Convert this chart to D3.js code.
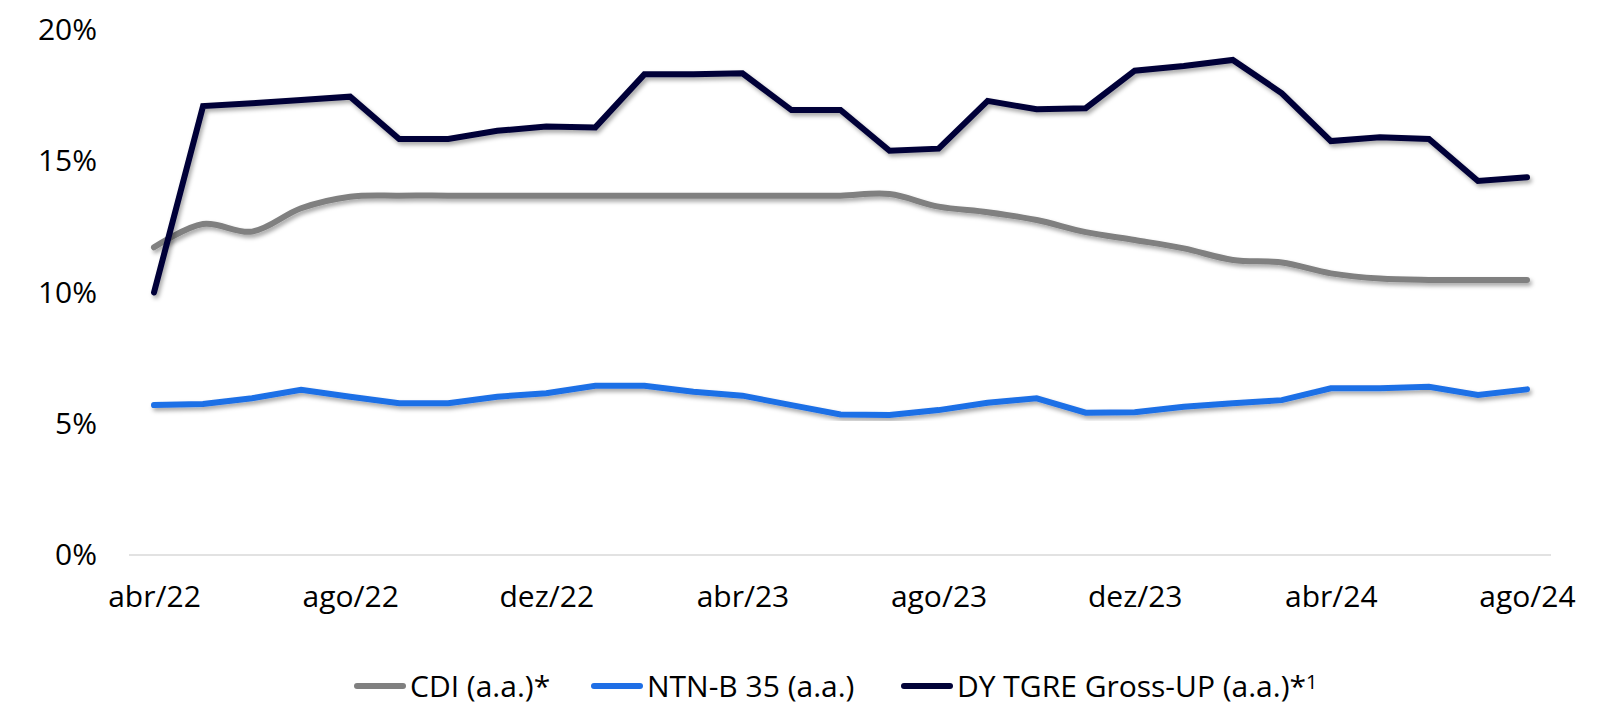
<!DOCTYPE html>
<html>
<head>
<meta charset="utf-8">
<script src="https://cdn.jsdelivr.net/npm/d3@7"></script>
<style>
  html, body { margin: 0; padding: 0; background: #fff; }
  svg { display: block; }
  text { font-family: "Open Sans", "Noto Sans", sans-serif; fill: #000; }
</style>
</head>
<body>
<svg id="chart" width="1611" height="707"></svg>
<script>
const months = ["abr/22","mai/22","jun/22","jul/22","ago/22","set/22","out/22","nov/22","dez/22",
  "jan/23","fev/23","mar/23","abr/23","mai/23","jun/23","jul/23","ago/23","set/23","out/23","nov/23","dez/23",
  "jan/24","fev/24","mar/24","abr/24","mai/24","jun/24","jul/24","ago/24"];
const xTickLabels = ["abr/22","ago/22","dez/22","abr/23","ago/23","dez/23","abr/24","ago/24"];
const yTicks = [0, 5, 10, 15, 20];

const cdi = [11.72,12.61,12.32,13.21,13.65,13.69,13.69,13.69,13.69,13.69,13.69,13.69,13.69,13.69,13.69,
  13.75,13.27,13.06,12.76,12.30,12.00,11.68,11.24,11.14,10.73,10.53,10.48,10.48,10.48];
const ntnb = [5.71,5.75,5.97,6.29,6.03,5.78,5.78,6.03,6.16,6.45,6.45,6.22,6.07,5.71,5.35,
  5.33,5.52,5.80,5.97,5.42,5.44,5.65,5.78,5.90,6.35,6.35,6.41,6.10,6.31];
const dy = [10.0,17.10,17.21,17.33,17.46,15.85,15.85,16.16,16.32,16.29,18.31,18.31,18.35,16.95,16.95,
  15.40,15.48,17.30,16.98,17.02,18.45,18.63,18.86,17.59,15.77,15.91,15.85,14.25,14.39];

const seriesNames = ["CDI (a.a.)*", "NTN-B 35 (a.a.)", "DY TGRE Gross-UP (a.a.)*"];
const seriesColors = ["#808080", "#1f6fe6", "#020338"];

const svg = d3.select("#chart");
const defs = svg.append("defs");
const f = defs.append("filter").attr("id","shadow").attr("x","-5%").attr("y","-20%").attr("width","110%").attr("height","140%");
f.append("feDropShadow").attr("dx",2).attr("dy",3).attr("stdDeviation",2)
  .attr("flood-color","#000").attr("flood-opacity",0.35);

const x = d3.scalePoint().domain(months).range([154, 1527]);
const y = d3.scaleLinear().domain([0, 20]).range([555, 30]);

// baseline gridline at 0%
svg.append("line")
  .attr("x1", 129).attr("x2", 1551)
  .attr("y1", y(0)).attr("y2", y(0))
  .attr("stroke", "#d9d9d9").attr("stroke-width", 1.5);

// y axis
const yAxis = svg.append("g").attr("transform", "translate(97,0)")
  .call(d3.axisLeft(y).tickValues(yTicks).tickSize(0).tickPadding(0).tickFormat(d => d + "%"));
yAxis.select(".domain").remove();
yAxis.selectAll("text").style("font-size", "30px").attr("fill", "#000");

// x axis
const xAxis = svg.append("g").attr("transform", `translate(0,${y(0)})`)
  .call(d3.axisBottom(x).tickValues(xTickLabels).tickSize(0).tickPadding(31));
xAxis.select(".domain").remove();
xAxis.selectAll("text").style("font-size", "30px").attr("fill", "#000");

const allSeries = [
  {name: seriesNames[0], color: seriesColors[0], values: cdi, curve: d3.curveCatmullRom.alpha(0.5)},
  {name: seriesNames[1], color: seriesColors[1], values: ntnb, curve: d3.curveLinear},
  {name: seriesNames[2], color: seriesColors[2], values: dy, curve: d3.curveLinear}
];

allSeries.forEach(s => {
  const line = d3.line().x((d, i) => x(months[i])).y(d => y(d)).curve(s.curve);
  svg.append("path")
    .datum(s.values)
    .attr("d", line)
    .attr("fill", "none")
    .attr("stroke", s.color)
    .attr("stroke-width", 6)
    .attr("stroke-linejoin", "miter")
    .attr("stroke-linecap", "round")
    .attr("filter", "url(#shadow)");
});

// legend
const legendPos = [354, 591, 901];
const legend = svg.append("g");
allSeries.forEach((s, i) => {
  const g = legend.append("g").attr("transform", `translate(${legendPos[i]},686)`);
  g.append("line").attr("x1", 3).attr("x2", 49).attr("y1", 0).attr("y2", 0)
    .attr("stroke", s.color).attr("stroke-width", 6).attr("stroke-linecap", "round");
  const t = g.append("text").attr("x", 56).attr("y", 0).attr("dy", "0.35em")
    .style("font-size", "30px").text(s.name);
  if (i === 2) {
    t.append("tspan").attr("dy", "-0.4em").style("font-size", "20px").text("1");
  }
});
</script>
</body>
</html>
